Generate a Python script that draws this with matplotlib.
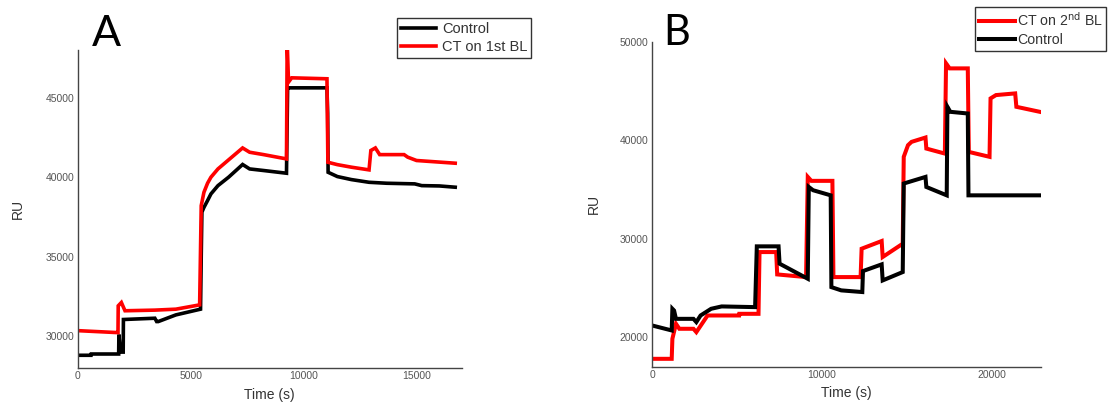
import matplotlib
matplotlib.use("Agg")
import matplotlib.pyplot as plt

# ---- Panel A: sensorgram breakpoints (time in s, response in RU) ----
a_control_t = [0, 600, 610, 1820, 1830, 1900, 2020, 2030, 3420, 3500, 3570, 4350, 5440,
               5470, 5500, 5590, 5750, 5900, 6210, 6680, 7300, 7610, 8230, 9240,
               9290, 9330, 11030, 11060, 11080, 11490, 12110, 12890, 13670, 14910,
               15220, 16000, 16700]
a_control_ru = [28800, 28800, 28880, 28880, 30100, 29000, 29000, 31050, 31130, 30920, 30920,
                31340, 31700, 34960, 37800, 38100, 38530, 38950, 39470, 40000, 40800,
                40520, 40420, 40250, 45620, 45620, 45620, 44000, 40310, 40040, 39850,
                39680, 39620, 39580, 39470, 39450, 39370]

a_ct_t = [0, 1710, 1790, 1800, 1940, 2100, 3420, 4350, 5400, 5470, 5590, 5750, 5900,
          6210, 6680, 7300, 7610, 8230, 9240, 9270, 9330, 9470, 11030, 11070, 11490,
          12110, 12890, 12970, 13170, 13360, 14440, 14600, 14990, 16700]
a_ct_ru = [30350, 30230, 30230, 31910, 32120, 31600, 31640, 31700, 31970, 38210, 39050,
           39620, 40000, 40520, 41090, 41840, 41570, 41420, 41150, 48500, 45980, 46250,
           46190, 40940, 40790, 40630, 40460, 41680, 41840, 41420, 41420, 41260, 41050,
           40880]

# ---- Panel B ----
b_control_t = [0, 1160, 1200, 1300, 1410, 2440, 2610, 2860, 3480, 4100, 6070, 6170,
               7450, 7510, 9170, 9230, 9480, 10520, 10560, 11140, 12380, 12420, 13520,
               13580, 14760, 14820, 16100, 16150, 17350, 17390, 17560, 18590, 18630,
               22830]
b_control_ru = [21190, 20680, 22880, 22700, 21860, 21860, 21530, 22200, 22880, 23120,
                23050, 29220, 29220, 27460, 25930, 35250, 34920, 34400, 25080, 24750,
                24580, 26710, 27390, 25760, 26610, 35600, 36270, 35250, 34400, 43390,
                42880, 42710, 34400, 34400]

b_ct_t = [0, 1160, 1200, 1410, 1610, 2440, 2610, 3270, 5130, 5140, 6270, 6330, 7310,
          7370, 9070, 9170, 9380, 10620, 10680, 12280, 12340, 13520, 13580, 14760,
          14820, 15070, 15280, 16100, 16150, 17240, 17310, 17520, 18590, 18650, 19870,
          19930, 20250, 21380, 21450, 22830]
b_ct_ru = [17800, 17800, 19830, 21360, 20850, 20850, 20510, 22200, 22200, 22370, 22370,
           28640, 28640, 26370, 26100, 36270, 35870, 35870, 26100, 26100, 28980, 29760,
           28140, 29490, 38310, 39490, 39830, 40270, 39150, 38640, 47800, 47290, 47290,
           38810, 38310, 44240, 44580, 44750, 43390, 42880]

a_xticks = [0, 5000, 10000, 15000]
a_yticks = [30000, 35000, 40000, 45000]
b_xticks = [0, 10000, 20000]
b_yticks = [20000, 30000, 40000, 50000]

TEXT_FONT = ["Liberation Sans", "DejaVu Sans"]
plt.rcParams["font.family"] = TEXT_FONT

W, H = 1115, 405
fig = plt.figure(figsize=(W / 100, H / 100), dpi=100)


def px_axes(left, right, top, bottom):
    return fig.add_axes([left / W, 1 - bottom / H, (right - left) / W, (bottom - top) / H])


def style(ax, xlim, ylim, xticks, yticks, ylabelpad):
    ax.set_xlim(*xlim)
    ax.set_ylim(*ylim)
    ax.set_xticks(xticks)
    ax.set_yticks(yticks)
    for s in ("top", "right"):
        ax.spines[s].set_visible(False)
    for s in ("left", "bottom"):
        ax.spines[s].set_color("#444444")
        ax.spines[s].set_linewidth(1.0)
    ax.tick_params(length=0, pad=2.5, labelsize=7.5, labelcolor="#555555")
    ax.set_xlabel("Time (s)", fontsize=10, color="#333333", labelpad=4.5)
    ax.set_ylabel("RU", fontsize=10, color="#333333", labelpad=ylabelpad)


# Panel A
axA = px_axes(77.5, 462, 50, 368)
axA.plot(a_control_t, a_control_ru, color="black", lw=2.6, label="Control", solid_joinstyle="miter")
axA.plot(a_ct_t, a_ct_ru, color="#ff0000", lw=2.6, label="CT on 1st BL", solid_joinstyle="miter")
style(axA, (0, 17000), (28000, 48000), a_xticks, a_yticks, ylabelpad=15)
legA = axA.legend(loc="upper left", bbox_to_anchor=(397 / W, 1 - 18.3 / H),
                  bbox_transform=fig.transFigure, borderaxespad=0, fancybox=False,
                  framealpha=1, edgecolor="#333333", fontsize=10.5, handlelength=2.4,
                  handletextpad=0.45, borderpad=0.25, labelspacing=0.28)
legA.get_frame().set_linewidth(1.0)
for t in legA.get_texts():
    t.set_color("#333333")
fig.text(106 / W, 1 - 34 / H, "A", fontsize=31, ha="center", va="center",
         family=["Lato", "DejaVu Sans"])

# Panel B
axB = px_axes(652, 1041, 41.7, 366.7)
axB.plot(b_ct_t, b_ct_ru, color="#ff0000", lw=2.9, label=r"CT on 2$^{\mathrm{nd}}$ BL",
         solid_joinstyle="miter")
axB.plot(b_control_t, b_control_ru, color="black", lw=2.9, label="Control", solid_joinstyle="miter")
style(axB, (0, 22900), (17000, 50000), b_xticks, b_yticks, ylabelpad=13.5)
legB = axB.legend(loc="upper left", bbox_to_anchor=(975 / W, 1 - 7.3 / H),
                  bbox_transform=fig.transFigure, borderaxespad=0, fancybox=False,
                  framealpha=1, edgecolor="#333333", fontsize=10.2, handlelength=2.6,
                  handletextpad=0.1, borderpad=0.25, labelspacing=0.3)
legB.get_frame().set_linewidth(1.0)
for t in legB.get_texts():
    t.set_color("#333333")
fig.text(677 / W, 1 - 33 / H, "B", fontsize=30, ha="center", va="center",
         family=["Lato", "DejaVu Sans"])

fig.savefig("out.png", dpi=100)
